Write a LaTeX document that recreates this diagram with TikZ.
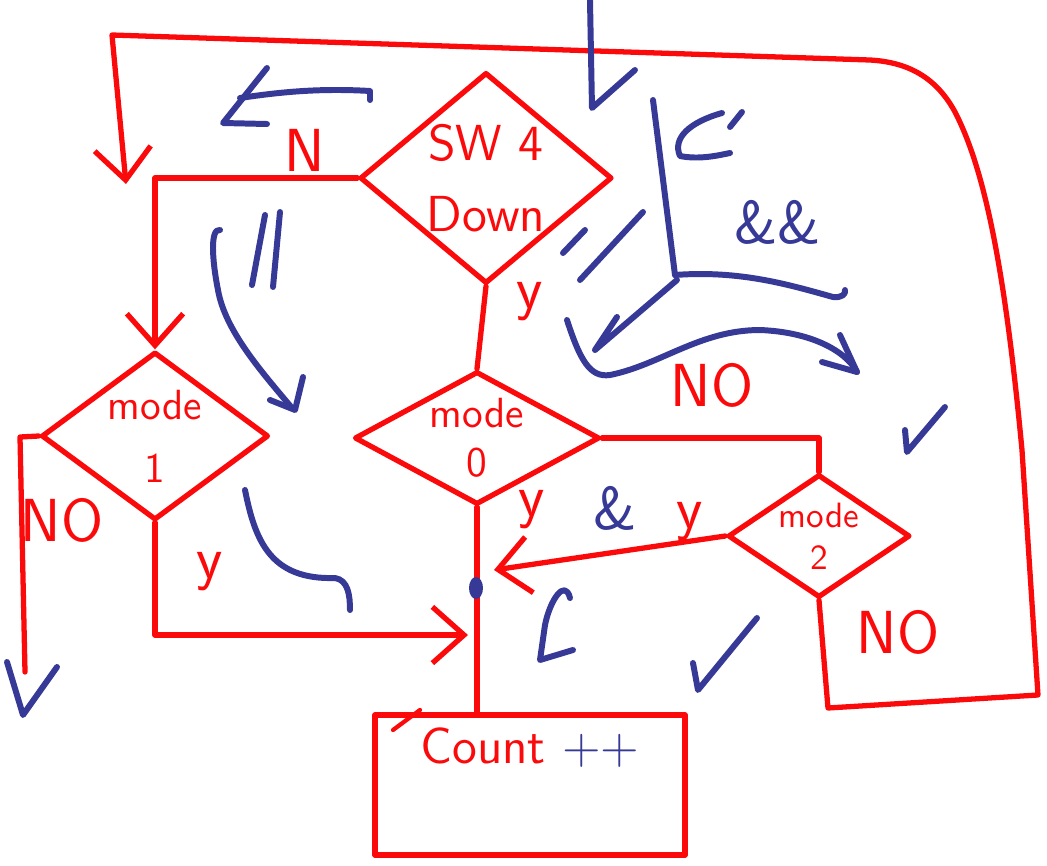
\documentclass[tikz,border=0pt]{standalone}
\usetikzlibrary{shapes.geometric,arrows.meta}
\definecolor{pen}{RGB}{250,10,10}
\definecolor{ink}{RGB}{54,57,150}
\begin{document}
\begin{tikzpicture}[x=0.01cm,y=-0.01cm,line width=1.5pt,line cap=round,line join=round,
	  dec/.style={diamond, draw=pen, inner sep=0pt, text=pen, align=center, font=\sffamily\Large},
	  link/.style={draw=pen},
	  arr/.style={draw=pen, -{Straight Barb[length=9pt,width=16pt]}},
	  lbl/.style={text=pen, font=\sffamily\LARGE},
	  note/.style={draw=ink, line width=1.7pt}]
	  \useasboundingbox (0,0) rectangle (1047,866);

	  \node[dec, aspect=1.2, minimum width=2.52cm, minimum height=2.11cm] (sw) at (486,178) {SW 4\\[2pt]Down};
	  \node[dec, aspect=1.35, minimum width=2.27cm, minimum height=1.68cm, font=\sffamily\large] (m1) at (155,436) {mode\\[4pt]1};
	  \node[dec, aspect=1.84, minimum width=2.45cm, minimum height=1.33cm, font=\sffamily\large] (m0) at (477,438) {mode\\0};
	  \node[dec, aspect=1.48, minimum width=1.82cm, minimum height=1.23cm, font=\sffamily\normalsize] (m2) at (819,536) {mode\\2};
	  \node[draw=pen, minimum width=3.1cm, minimum height=1.4cm] (cnt) at (530,785) {};
	  \node[lbl, font=\sffamily\Large] (cntlbl) at (530,748) {Count \textcolor{ink}{++}};

	  \coordinate (loopin) at (126,184);
	  \coordinate (j2) at (494,570);
	  \coordinate (j1) at (468,635);
	  \coordinate (noend) at (25,672);

	  \draw[arr] (sw.west) -| (m1.north);
	  \draw[link] (sw.south) -- (m0.north);
	  \draw[link] (m0.east) -| (m2.north);
	  \draw[link] (m0.south) -- (m0.south |- cnt.north);
	  \draw[arr] (m2.west) -- (j2);
	  \draw[arr] (m1.south) |- (j1);
	  \draw[link] (m1.west) -- (20,437) -- (noend);
	  \draw[arr] (m2.south) -- (828,708) -- (1038,695) -- (1022,450)
	    .. controls (1005,270) and (985,170) .. (955,112)
	    .. controls (935,75) and (905,62) .. (870,60) -- (112,35) -- (loopin);
	  \draw[link, line width=1.2pt] (393,730) -- (420,710);

	  % labels
	  \node[lbl] (n1) at (305,150) {N};
	  \node[lbl] (y1) at (530,302) {y};
	  \node[lbl] (no1) at (62,520) {NO};
	  \node[lbl] (y2) at (210,572) {y};
	  \node[lbl] (y3) at (532,510) {y};
	  \node[text=ink, font=\sffamily\LARGE] (amp) at (615,508) {\&};
	  \node[lbl] (y4) at (690,522) {y};
	  \node[lbl] (no2) at (712,385) {NO};
	  \node[lbl] (no3) at (898,632) {NO};
	  \node[text=ink, font=\sffamily\LARGE] (amps) at (778,222) {\&\&};

	  % blue notes
	  \draw[note] (590,0) -- (592,108) -- (635,70);
	  \draw[note] (370,100) -- (370,91) .. controls (320,88) and (280,92) .. (240,98);
	  \draw[note] (267,68) -- (223,123) -- (267,124);
	  \draw[note] (265,215) -- (252,285);
	  \draw[note] (280,212) -- (273,287);
	  \draw[note] (220,230) .. controls (210,228) and (212,260) .. (218,290)
	    .. controls (225,330) and (260,370) .. (292,408);
	  \draw[note] (303,377) -- (295,410) -- (270,400);
	  \draw[note] (245,490) .. controls (255,540) and (270,580) .. (335,578)
	    .. controls (348,580) and (350,595) .. (350,610);
	  \draw[note] (570,598) .. controls (565,578) and (550,600) .. (545,625) -- (540,660) -- (573,650);
	  \fill[ink] (476,588) ellipse (7 and 11);
	  \draw[note] (693,663) -- (698,690) -- (757,618);
	  \draw[note] (905,430) -- (907,452) -- (945,407);
	  \draw[note] (563,253) -- (585,230);
	  \draw[note] (580,280) -- (643,212);
	  \draw[note] (653,100) -- (675,275);
	  \draw[note] (675,275) .. controls (740,270) and (790,285) .. (833,297)
	    .. controls (842,298) and (846,294) .. (845,290);
	  \draw[note] (677,280) -- (595,350) -- (617,317);
	  \draw[note] (722,113) .. controls (690,122) and (672,138) .. (680,156)
	    .. controls (700,160) and (720,155) .. (730,153);
	  \draw[note] (742,112) -- (730,127);
	  \draw[note] (567,320) .. controls (580,360) and (590,378) .. (610,375)
	    .. controls (660,365) and (700,330) .. (760,330)
	    .. controls (810,332) and (845,350) .. (857,372);
	  \draw[note] (840,335) -- (857,372) -- (822,362);
	  \draw[note] (7,662) -- (23,715) -- (57,667);
\end{tikzpicture}
\end{document}
